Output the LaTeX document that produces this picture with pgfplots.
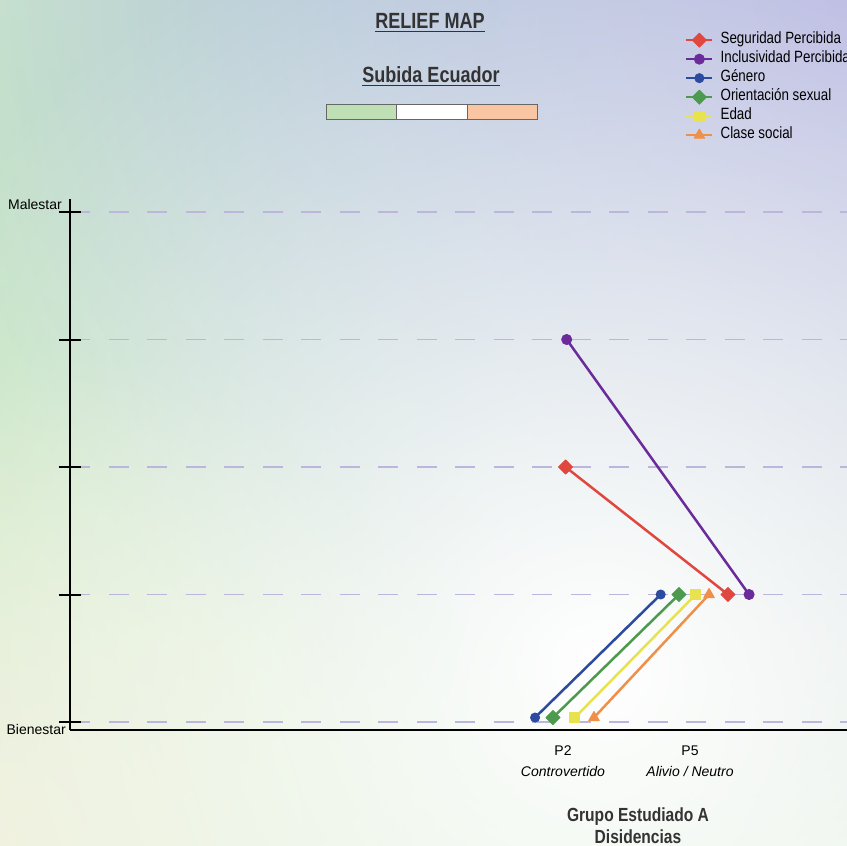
\documentclass[border=0pt]{standalone}
\usepackage{fontspec}
\setmainfont{Liberation Sans}
\newfontfamily\narrowfont{Liberation Sans}[FakeStretch=0.82]
\usepackage{pgfplots}
\pgfplotsset{compat=1.18}
\usetikzlibrary{fadings}
\definecolor{cRed}{HTML}{E0483F}
\definecolor{cPur}{HTML}{6B2B9B}
\definecolor{cBlue}{HTML}{2B4AA0}
\definecolor{cGreen}{HTML}{4C9A4E}
\definecolor{cYel}{HTML}{E8E24E}
\definecolor{cOra}{HTML}{F09048}
\definecolor{gridc}{HTML}{BDB6DC}
\definecolor{titlec}{HTML}{333333}
\definecolor{bgbase}{HTML}{E3F0DF}
\definecolor{bgGreen}{HTML}{C6E6BF}
\definecolor{bgTeal}{HTML}{B6D6D6}
\definecolor{bgLav}{HTML}{B8B8E2}
\definecolor{bgCream}{HTML}{EEEFD8}
\definecolor{barG}{HTML}{BFE0B5}
\definecolor{barS}{HTML}{F9C5A3}
\tikzfading[name=radfade, inner color=transparent!0, outer color=transparent!100]
\begin{document}
\begin{tikzpicture}[x=1pt,y=1pt]
\clip (0,0) rectangle (847,846);
\fill[bgbase] (0,0) rectangle (847,846);
\fill[bgGreen, path fading=radfade, fit fading=true] (0,450) circle (1100);
\fill[bgTeal, path fading=radfade, fit fading=true] (470,846) circle (700);
\fill[bgLav, path fading=radfade, fit fading=true] (847,846) circle (900);
\fill[bgCream, path fading=radfade, fit fading=true] (0,0) circle (500);
\fill[white, path fading=radfade, fit fading=true] (600,180) circle (800);

% titles
\node[anchor=base, inner sep=0pt, text=titlec, font=\narrowfont\bfseries\fontsize{22}{24}\selectfont] (t1) at (430,817) {RELIEF MAP};
\draw[titlec, line width=1.6pt] (t1.west |- 0,814.5) -- (t1.east |- 0,814.5);
\node[anchor=base, inner sep=0pt, text=titlec, font=\narrowfont\bfseries\fontsize{22}{24}\selectfont] (t2) at (431,763) {Subida Ecuador};
\draw[titlec, line width=1.6pt] (t2.west |- 0,760.5) -- (t2.east |- 0,760.5);
\filldraw[fill=barG, draw=gray!80!black, line width=0.8pt] (326,727) rectangle (396,742);
\filldraw[fill=white, draw=gray!80!black, line width=0.8pt] (396,727) rectangle (467,742);
\filldraw[fill=barS, draw=gray!80!black, line width=0.8pt] (467,727) rectangle (537,742);

\begin{axis}[
  at={(70pt,116pt)}, anchor=south west,
  scale only axis, width=1136pt, height=531pt,
  xmin=-3.882, xmax=5.063, ymin=-0.0627, ymax=4.102,
  axis x line*=bottom, axis y line*=left,
  axis line style={line width=2.5pt, black},
  xtick={0,1},
  xticklabels={P2\\\textit{Controvertido}, P5\\\textit{Alivio / Neutro}},
  xticklabel style={align=center, font=\fontsize{14}{20.5}\selectfont, yshift=-1.5pt},
  xtick style={draw=none},
  ytick={0,1,2,3,4}, yticklabels={,,,,},
  ytick style={line width=2pt, black},
  major tick length=22pt, tick align=center,
  ymajorgrids,
  major grid style={dash pattern=on 20pt off 18.5pt, line width=1.5pt, gridc},
  xlabel={Grupo Estudiado A\\Disidencias},
  xlabel style={align=center, font=\narrowfont\bfseries\fontsize{19}{22}\selectfont, text=titlec, yshift=-24pt},
  legend cell align=left,
  legend style={at={(0.5413,1.3174)}, anchor=north west, draw=none, fill=none,
    inner sep=0pt, font=\narrowfont\fontsize{16.3}{18}\selectfont,
    nodes={inner xsep=4pt, inner ysep=2pt, text height=11pt, text depth=4pt},
    /tikz/every odd column/.append style={column sep=3pt}},
  legend image code/.code={\draw[mark repeat=2,mark phase=2,#1] plot coordinates {(0pt,0pt) (13pt,0pt) (26pt,0pt)};},
  every axis plot/.append style={line width=2.5pt, line join=round},
]
\addplot[cRed, mark=diamond*, mark size=7pt, mark options={solid, line width=1pt, xscale=1.33}] coordinates {(0.02,2) (1.299,1)};
\addlegendentry{Seguridad Percibida}
\addplot[cPur, mark=*, mark size=5pt, mark options={solid, line width=1pt}] coordinates {(0.029,3) (1.465,1)};
\addlegendentry{Inclusividad Percibida}
\addplot[cBlue, mark=*, mark size=4.5pt, mark options={solid, line width=1pt}] coordinates {(-0.22,0.035) (0.769,1)};
\addlegendentry{Género}
\addplot[cGreen, mark=diamond*, mark size=7pt, mark options={solid, line width=1pt, xscale=1.33}] coordinates {(-0.079,0.035) (0.913,1)};
\addlegendentry{Orientación sexual}
\addplot[cYel, mark=square*, mark size=5pt, mark options={solid, line width=1pt}] coordinates {(0.094,0.035) (1.045,1)};
\addlegendentry{Edad}
\addplot[cOra, mark=triangle*, mark size=6pt, mark options={solid, line width=1pt}] coordinates {(0.244,0.035) (1.150,1)};
\addlegendentry{Clase social}
\end{axis}

\node[anchor=east, inner sep=0pt, font=\fontsize{14}{16}\selectfont] at (62,641) {Malestar};
\node[anchor=east, inner sep=0pt, font=\fontsize{14}{16}\selectfont] at (66,116.5) {Bienestar};
\end{tikzpicture}
\end{document}
